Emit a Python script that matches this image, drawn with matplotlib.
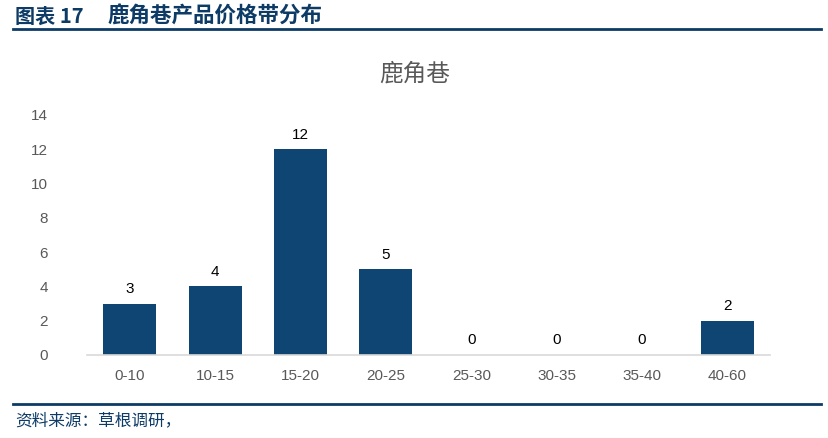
import matplotlib
matplotlib.use('Agg')
import matplotlib.pyplot as plt

plt.rcParams['font.family'] = ['Noto Sans CJK SC', 'DejaVu Sans']

# data
categories = ['0-10', '10-15', '15-20', '20-25', '25-30', '30-35', '35-40', '40-60']
counts = [3, 4, 12, 5, 0, 0, 0, 2]
yticks = [0, 2, 4, 6, 8, 10, 12, 14]

bar_color = '#0e4573'
navy = '#0d3b66'

fig = plt.figure(figsize=(8.29, 4.38), dpi=100)
ax = fig.add_axes([0.105, 0.1895, 0.824, 0.548])

x = range(len(categories))
bars = ax.bar(x, counts, width=0.62, color=bar_color)
for xi, v in zip(x, counts):
    ax.text(xi, v + 0.45, str(v), ha='center', va='bottom', fontsize=11,
            family='Liberation Sans', color='black')

ax.set_xlim(-0.5, len(categories) - 0.5)
ax.set_ylim(0, 14)
ax.set_yticks(yticks)
ax.set_xticks(list(x))
ax.set_xticklabels(categories)
for lab in ax.get_xticklabels() + ax.get_yticklabels():
    lab.set_family('Liberation Sans')
    lab.set_fontsize(11)
    lab.set_color('#595959')
ax.tick_params(length=0, pad=10)
ax.tick_params(axis='y', pad=28)
for s in ['top', 'right', 'left']:
    ax.spines[s].set_visible(False)
ax.spines['bottom'].set_color('#d9d9d9')
ax.spines['bottom'].set_linewidth(1.2)

# chart title
fig.text(0.5, 0.83, '鹿角巷', ha='center', va='center', fontsize=17, color='#595959')

# header
fig.text(0.018, 0.963, '图表 17', ha='left', va='center',
         fontsize=14.5, fontweight='bold', color=navy)
fig.text(0.13, 0.963, '鹿角巷产品价格带分布', ha='left', va='center',
         fontsize=15.5, fontweight='bold', color=navy)
fig.add_artist(plt.Line2D([0.016, 0.99], [0.933, 0.933], color=navy, linewidth=2))

# footer
fig.add_artist(plt.Line2D([0.016, 0.99], [0.077, 0.077], color=navy, linewidth=2))
fig.text(0.018, 0.04, '资料来源：草根调研，', ha='left', va='center',
         fontsize=12, style='italic', color=navy)

plt.savefig('out.png', dpi=100)
